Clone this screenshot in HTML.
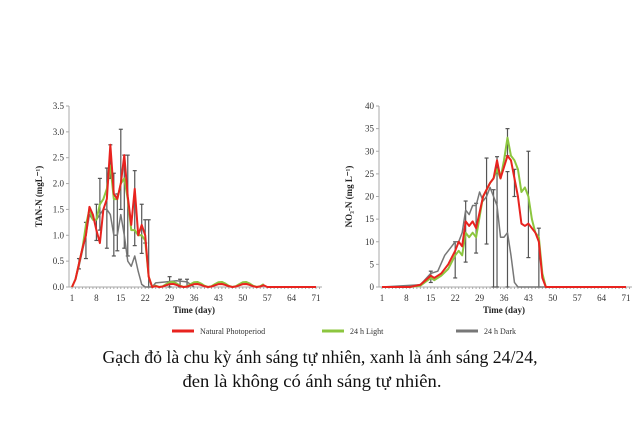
<!DOCTYPE html>
<html><head><meta charset="utf-8">
<style>
body{margin:0;background:#fff;width:640px;height:430px;overflow:hidden}
svg text{font-family:"Liberation Serif",serif}
</style></head><body>
<svg id="s" width="640" height="430" xmlns="http://www.w3.org/2000/svg">
<text x="320" y="363" font-size="17.5" text-anchor="middle" fill="#111" textLength="435" lengthAdjust="spacingAndGlyphs">Gạch đỏ là chu kỳ ánh sáng tự nhiên, xanh là ánh sáng 24/24,</text>
<text x="312" y="387" font-size="17.5" text-anchor="middle" fill="#111" textLength="259" lengthAdjust="spacingAndGlyphs">đen là không có ánh sáng tự nhiên.</text>
<line x1="172" y1="331" x2="194" y2="331" stroke="#e8231f" stroke-width="3"/>
<text x="200" y="334" font-size="8" fill="#333">Natural Photoperiod</text>
<line x1="322" y1="331" x2="344" y2="331" stroke="#8cc63f" stroke-width="3"/>
<text x="350" y="334" font-size="8" fill="#333">24 h Light</text>
<line x1="456" y1="331" x2="478" y2="331" stroke="#777" stroke-width="3"/>
<text x="484" y="334" font-size="8" fill="#333">24 h Dark</text>
</svg>
<script>
const s=document.getElementById('s');const NS='http://www.w3.org/2000/svg';
function el(t,a,txt){const e=document.createElementNS(NS,t);for(const k in a)e.setAttribute(k,a[k]);if(txt!==undefined)e.textContent=txt;s.appendChild(e);return e;}
function chart(x0,ymax,step,dec,ylab,series,bars){
 const x1=x0+244,yb=287,yt=106;
 const X=d=>x0+(d-1)*244/70,Y=v=>yb-v/ymax*(yb-yt);
 el('line',{x1:x0-3,y1:yt,x2:x0-3,y2:yb,stroke:'#aaa','stroke-width':1});
 el('line',{x1:x0-3,y1:yb,x2:x1+6,y2:yb,stroke:'#aaa','stroke-width':1});
 for(let v=0;v<=ymax+1e-9;v+=step){el('line',{x1:x0-6,y1:Y(v),x2:x0-3,y2:Y(v),stroke:'#aaa'});
  el('text',{x:x0-8,y:Y(v)+3,'font-size':9,'text-anchor':'end',fill:'#333'},v.toFixed(dec));}
 for(let d=1;d<=71;d+=7){el('text',{x:X(d),y:yb+14,'font-size':9,'text-anchor':'middle',fill:'#333'},d);}
 for(let d=1;d<=72;d++)el('line',{x1:X(d),y1:yb,x2:X(d),y2:yb+2,stroke:'#aaa'});
 el('text',{x:(x0+x1)/2,y:yb+26,'font-size':9,'font-weight':'bold','text-anchor':'middle',fill:'#222'},'Time (day)');
 el('text',{x:0,y:0,'font-size':9,'font-weight':'bold','text-anchor':'middle',fill:'#222',transform:`translate(${x0-30},${(yt+yb)/2}) rotate(-90)`},ylab);
 bars.forEach(b=>{el('line',{x1:X(b[0]),y1:Y(b[1]),x2:X(b[0]),y2:Y(b[2]),stroke:'#555','stroke-width':1.2});
  [b[1],b[2]].forEach(v=>el('line',{x1:X(b[0])-2,y1:Y(v),x2:X(b[0])+2,y2:Y(v),stroke:'#555','stroke-width':1.2}));});
 series.forEach(([c,w,pts])=>{el('polyline',{points:pts.map(p=>X(p[0])+','+Y(p[1])).join(' '),fill:'none',stroke:c,'stroke-width':w,'stroke-linejoin':'round'});});
}
const tail=(a,b,v)=>{const r=[];for(let d=a;d<=b;d++)r.push([d,d<57?v*(1+Math.sin(d*0.9)):0]);return r;};
const L_r=[[1,0],[2,.15],[3,.45],[4,.75],[5,1],[6,1.55],[7,1.4],[8,1.1],[9,.85],[10,1.5],[11,1.7],[12,2.75],[13,1.8],[14,1.7],[15,2],[16,2.55],[17,1.75],[18,1.2],[19,1.9],[20,1],[21,1.2],[22,1],[23,.2],[24,0]].concat(tail(25,71,.03));
const L_g=[[1,0],[2,.15],[3,.45],[4,.75],[5,1.2],[6,1.5],[7,1.3],[8,1.3],[9,1.6],[10,1.7],[11,1.9],[12,2.35],[13,1.7],[14,1.7],[15,2],[16,2.1],[17,1.7],[18,1.1],[19,1.1],[20,1],[21,1],[22,.9],[23,.2],[24,0]].concat(tail(25,56,.05));
const L_k=[[1,0],[2,.15],[3,.4],[4,.7],[5,1],[6,1.4],[7,1.3],[8,1.3],[9,1.4],[10,1.5],[11,1.5],[12,1.4],[13,1],[14,1],[15,1.4],[16,1],[17,.5],[18,.4],[19,.6],[20,.3],[21,.05],[22,0],[24,0],[25,.08],[28,.1],[31,.12],[34,.1],[36,0]];
chart(72,3.5,.5,1,'TAN-N (mgL\u207B\u00B9)',[['#777',1.5,L_k],['#8cc63f',2,L_g],['#e8231f',2,L_r]],
 [[3,.35,.55],[5,.55,1.25],[8,.9,1.6],[9,1.1,2.1],[11,.75,2.3],[12,2.1,2.75],[13,.6,2.2],[14,.7,1.8],[15,1.5,3.05],[16,.75,2.55],[17,.6,2.55],[19,.8,2.25],[21,.65,1.6],[22,.85,1.3],[23,0,1.3],[29,0,.2],[32,0,.15],[34,0,.15]]);
const R_r=[[1,0],[9,0],[12,.5],[15,2.5],[16,2],[18,3],[20,5],[22,8],[23,10],[24,9],[25,14.5],[26,13.5],[27,14.5],[28,13],[30,20],[32,23],[33,24],[34,28],[35,24],[37,29],[38,28],[40,20],[41,14],[42,13.5],[43,14],[44,13],[45,12],[46,10],[47,2],[48,0],[71,0]];
const R_g=[[1,0],[9,0],[12,.3],[15,2],[16,1.5],[18,2.5],[20,4],[22,7],[23,8],[24,7],[25,12],[26,11],[27,12],[28,11],[30,20],[32,23],[33,24],[34,26],[35,24],[36,28],[37,33],[38,29],[39,28],[40,26],[41,21],[42,22],[43,20],[44,15],[45,12],[46,11],[47,3],[48,0],[71,0]];
const R_k=[[1,0],[12,.5],[15,3],[17,3.5],[19,7],[21,9],[22,10],[23,10],[24,12],[25,17],[26,16],[27,18],[28,18],[29,21],[30,19],[31,20],[32,22],[33,20],[34,18],[35,11],[36,11],[37,12],[38,7],[39,1],[40,0],[71,0]];
chart(382,40,5,0,'NO\u2083-N (mg L\u207B\u00B9)',[['#777',1.5,R_k],['#8cc63f',2,R_g],['#e8231f',2,R_r]],
 [[15,1,3.5],[22,2,10],[25,5.5,19],[28,7.5,18.5],[31,9.5,28.5],[33,0,21.5],[34,0,28.8],[37,0,25.5],[37,29,35],[39,20,26],[43,6.5,30],[46,0,13]]);
</script>
</body></html>
